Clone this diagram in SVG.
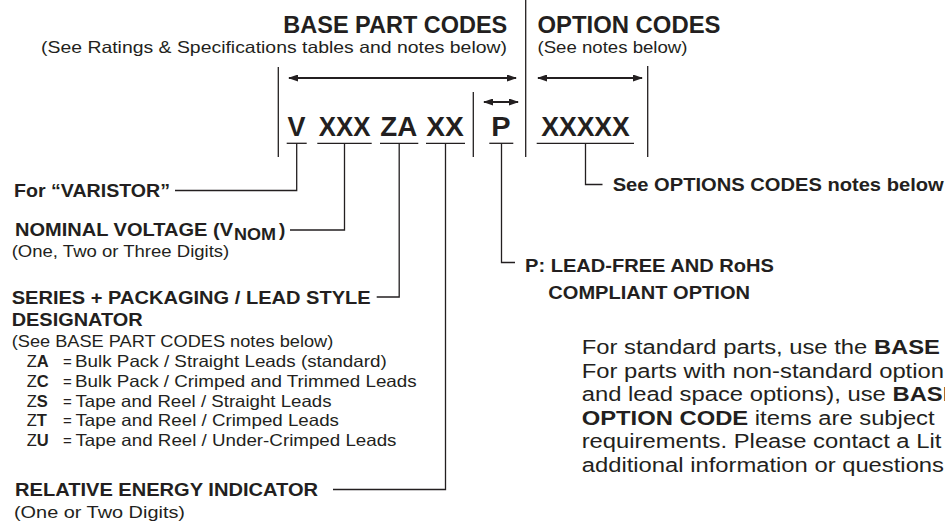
<svg xmlns="http://www.w3.org/2000/svg" width="945" height="531" viewBox="0 0 945 531">
<style>
.b{font-family:"Liberation Sans",Arial,Helvetica,sans-serif;font-weight:bold;fill:#231f20}
.r{font-family:"Liberation Sans",Arial,Helvetica,sans-serif;font-weight:normal;fill:#231f20}
.t{font-size:23px}
.s{font-size:16.5px}
.l{font-size:19px}
.c{font-size:27px}
.p{font-size:20px}
.ln{stroke:#231f20;stroke-width:1.3;fill:none}
.ar{stroke:#231f20;stroke-width:2;fill:none;marker-start:url(#ah);marker-end:url(#ah)}
</style>
<defs>
<marker id="ah" viewBox="0 0 10 7" refX="9" refY="3.5" markerWidth="10" markerHeight="7" markerUnits="userSpaceOnUse" orient="auto-start-reverse">
<path d="M0,0 L10,3.5 L0,7 z" fill="#231f20"/>
</marker>
</defs>
<rect width="945" height="531" fill="#ffffff"/>

<g id="header-base">
<text class="b t" x="283.3" y="32.5" textLength="224" lengthAdjust="spacingAndGlyphs">BASE PART CODES</text>
<text class="r s" x="41" y="53" textLength="466" lengthAdjust="spacingAndGlyphs">(See Ratings &amp; Specifications tables and notes below)</text>
</g>
<g id="header-option">
<text class="b t" x="537.5" y="32.5" textLength="183" lengthAdjust="spacingAndGlyphs">OPTION CODES</text>
<text class="r s" x="537.5" y="53" textLength="150" lengthAdjust="spacingAndGlyphs">(See notes below)</text>
</g>

<g id="code-V">
<text class="b c" x="287.5" y="136" textLength="18" lengthAdjust="spacingAndGlyphs">V</text>
<path class="ln" d="M286.7,143.3 H306.7"/>
</g>
<g id="code-XXX">
<text class="b c" x="318.8" y="136" textLength="51.7" lengthAdjust="spacingAndGlyphs">XXX</text>
<path class="ln" d="M317.3,143.3 H371.7"/>
</g>
<g id="code-ZA">
<text class="b c" x="380.2" y="136" textLength="37" lengthAdjust="spacingAndGlyphs">ZA</text>
<path class="ln" d="M380,143.3 H418.3"/>
</g>
<g id="code-XX">
<text class="b c" x="426.2" y="136" textLength="37.6" lengthAdjust="spacingAndGlyphs">XX</text>
<path class="ln" d="M426,143.3 H465"/>
</g>
<g id="code-P">
<text class="b c" x="491.2" y="136" textLength="19.3" lengthAdjust="spacingAndGlyphs">P</text>
<path class="ln" d="M489.3,143.3 H513.3"/>
</g>
<g id="code-XXXXX">
<text class="b c" x="541.2" y="136" textLength="88.6" lengthAdjust="spacingAndGlyphs">XXXXX</text>
<path class="ln" d="M536.7,143.3 H634"/>
</g>

<g id="label-varistor">
<text class="b l" x="14" y="196.5" textLength="156" lengthAdjust="spacingAndGlyphs">For “VARISTOR”</text>
</g>
<g id="label-nominal">
<text class="b l" x="15" y="236" textLength="218" lengthAdjust="spacingAndGlyphs">NOMINAL VOLTAGE (V</text>
<text class="b" font-size="16" x="234" y="239.5" textLength="42" lengthAdjust="spacingAndGlyphs">NOM</text>
<text class="b l" x="279" y="236">)</text>
<text class="r s" x="11.7" y="257" textLength="217.6" lengthAdjust="spacingAndGlyphs">(One, Two or Three Digits)</text>
</g>
<g id="label-series">
<text class="b l" x="11.7" y="303.5" textLength="359" lengthAdjust="spacingAndGlyphs">SERIES + PACKAGING / LEAD STYLE</text>
<text class="b l" x="11.7" y="325.5" textLength="131" lengthAdjust="spacingAndGlyphs">DESIGNATOR</text>
<text class="r s" x="11.7" y="347" textLength="321.6" lengthAdjust="spacingAndGlyphs">(See BASE PART CODES notes below)</text>
<text class="r s" x="26.7" y="367">Z<tspan class="b">A</tspan></text>
<text class="r" font-size="15" x="63" y="367">=</text>
<text class="r s" x="75" y="367" textLength="311.7" lengthAdjust="spacingAndGlyphs">Bulk Pack / Straight Leads (standard)</text>
<text class="r s" x="26.7" y="387">Z<tspan class="b">C</tspan></text>
<text class="r" font-size="15" x="63" y="387">=</text>
<text class="r s" x="75" y="387" textLength="341.7" lengthAdjust="spacingAndGlyphs">Bulk Pack / Crimped and Trimmed Leads</text>
<text class="r s" x="26.7" y="406.5">Z<tspan class="b">S</tspan></text>
<text class="r" font-size="15" x="63" y="406.5">=</text>
<text class="r s" x="75.5" y="406.5" textLength="256" lengthAdjust="spacingAndGlyphs">Tape and Reel / Straight Leads</text>
<text class="r s" x="26.7" y="426">Z<tspan class="b">T</tspan></text>
<text class="r" font-size="15" x="63" y="426">=</text>
<text class="r s" x="75.5" y="426" textLength="263.5" lengthAdjust="spacingAndGlyphs">Tape and Reel / Crimped Leads</text>
<text class="r s" x="26.7" y="446">Z<tspan class="b">U</tspan></text>
<text class="r" font-size="15" x="63" y="446">=</text>
<text class="r s" x="75.5" y="446" textLength="321" lengthAdjust="spacingAndGlyphs">Tape and Reel / Under-Crimped Leads</text>
</g>
<g id="label-energy">
<text class="b l" x="15" y="496" textLength="303" lengthAdjust="spacingAndGlyphs">RELATIVE  ENERGY INDICATOR</text>
<text class="r s" x="14" y="518" textLength="171" lengthAdjust="spacingAndGlyphs">(One or Two Digits)</text>
</g>
<g id="label-options">
<text class="b l" x="612.7" y="191" textLength="331" lengthAdjust="spacingAndGlyphs">See OPTIONS CODES notes below</text>
</g>
<g id="label-leadfree">
<text class="b l" x="525" y="271.5" textLength="249" lengthAdjust="spacingAndGlyphs">P: LEAD-FREE AND RoHS</text>
<text class="b l" x="548.3" y="298.5" textLength="201.7" lengthAdjust="spacingAndGlyphs">COMPLIANT OPTION</text>
</g>
<g id="note" transform="translate(581.7,0) scale(1.19,1)">
<text class="r p" x="0" y="354.5">For standard parts, use the <tspan class="b">BASE</tspan></text>
<text class="r p" x="0" y="378">For parts with non-standard option</text>
<text class="r p" x="0" y="401.5">and lead space options), use <tspan class="b">BASE</tspan></text>
<text class="r p" x="0" y="425"><tspan class="b">OPTION CODE</tspan> items are subject</text>
<text class="r p" x="0" y="448.5">requirements. Please contact a Lit</text>
<text class="r p" x="0" y="472">additional information or questions</text>
</g>

<g id="connectors">
<path class="ln" d="M525.7,0 V157"/>
<path class="ln" d="M278.3,67 V157"/>
<path class="ln" d="M473.3,92 V157"/>
<path class="ln" d="M647.7,66 V157"/>
<path class="ar" d="M289,78 H516"/>
<path class="ar" d="M538,78 H642"/>
<path class="ar" d="M484,102 H518"/>
<path class="ln" d="M296.7,143.3 V190.5 H175"/>
<path class="ln" d="M344.5,143.3 V230 H290"/>
<path class="ln" d="M399.2,143.3 V297 H376.7"/>
<path class="ln" d="M445.5,143.3 V489.5 H333"/>
<path class="ln" d="M501.5,143.3 V262.5 H515"/>
<path class="ln" d="M585.5,143.3 V184.5 H602.5"/>
</g>
</svg>
